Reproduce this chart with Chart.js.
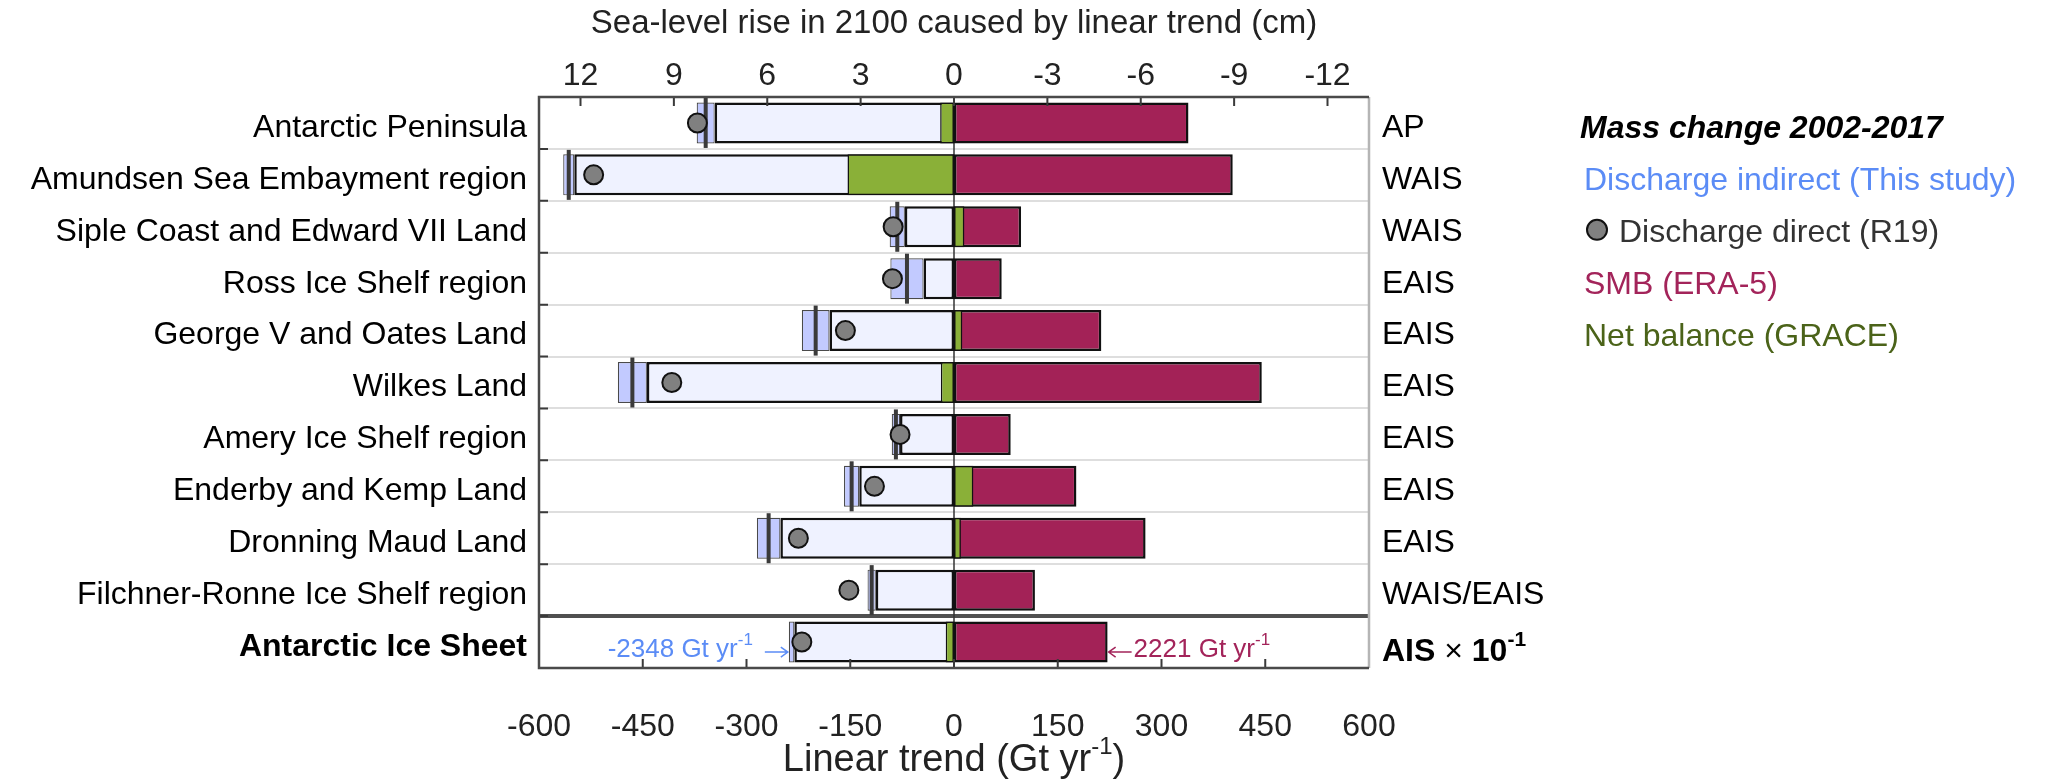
<!DOCTYPE html>
<html>
<head>
<meta charset="utf-8">
<title>Antarctic mass change 2002-2017</title>
<script src="https://cdn.jsdelivr.net/npm/chart.js@4.4.1/dist/chart.umd.min.js"></script>
<style>
  html, body { margin: 0; padding: 0; background: #fff; }
  #wrap { width: 2047px; height: 780px; }
</style>
</head>
<body>
<div id="wrap"><canvas id="chart" width="2047" height="780"></canvas></div>
<script>
// basins, top to bottom (last row is the whole ice sheet, plotted x 10^-1)
const regions = [
  'Antarctic Peninsula', 'Amundsen Sea Embayment region', 'Siple Coast and Edward VII Land',
  'Ross Ice Shelf region', 'George V and Oates Land', 'Wilkes Land', 'Amery Ice Shelf region',
  'Enderby and Kemp Land', 'Dronning Maud Land', 'Filchner-Ronne Ice Shelf region', 'Antarctic Ice Sheet'
];
const regionCodes = ['AP', 'WAIS', 'WAIS', 'EAIS', 'EAIS', 'EAIS', 'EAIS', 'EAIS', 'EAIS', 'WAIS/EAIS', ''];

// linear trends, Gt/yr
const dischargeIndirect = [-359, -557, -82, -68, -200, -465, -84, -148, -268, -119, -234.8];
const dischargeSpread   = [13, 8, 11, 24, 20, 21, 6, 11, 17, 6, 4];
const showCentreLine    = [true, true, true, true, true, true, true, true, true, true, false];
const dischargeDirect   = [-371, -521, -88, -89, -157, -408, -78, -115, -225, -152, -220];
const smbTrend          = [339, 403, 97, 69, 213, 445, 82, 177, 277, 117, 222.1];
const netBalance        = [-20, -154, 15, null, 12, -19, null, 28, 10, null, -12];

const aisIndirectLabel = '-2348';
const aisSmbLabel = '2221';

const seaLevelTicks = [12, 9, 6, 3, 0, -3, -6, -9, -12];
const gtPerCm = 45;

const FONT = "'Liberation Sans', Arial, Helvetica, sans-serif";
const LIGHT = '#eff2ff', BAND = '#c2caff', GREEN = '#8ab038', SMB = '#a32257';
const BLUE_TXT = '#5b8cf6', SMB_TXT = '#a3245a', GREEN_TXT = '#4b6319';

function drawRich(ctx, x, y, parts, align) {
  let total = 0;
  parts.forEach(p => { ctx.font = p.font; p.w = ctx.measureText(p.text).width; total += p.w; });
  let cx = align === 'center' ? x - total / 2 : align === 'right' ? x - total : x;
  ctx.textAlign = 'left';
  ctx.textBaseline = 'alphabetic';
  parts.forEach(p => {
    ctx.font = p.font;
    ctx.fillStyle = p.color || '#000';
    ctx.fillText(p.text, cx, y - (p.rise || 0));
    cx += p.w;
  });
  return total;
}

function arrow(ctx, x0, x1, y, color) {
  const dir = x1 > x0 ? 1 : -1;
  ctx.save();
  ctx.strokeStyle = color;
  ctx.lineWidth = 1.5;
  ctx.beginPath();
  ctx.moveTo(x0, y); ctx.lineTo(x1, y);
  ctx.moveTo(x1 - dir * 7, y - 5); ctx.lineTo(x1, y); ctx.lineTo(x1 - dir * 7, y + 5);
  ctx.stroke();
  ctx.restore();
}

const framePlugin = {
  id: 'frame',
  beforeDatasetsDraw(chart) {
    const { ctx, chartArea: a, scales: { x } } = chart;
    const x0 = x.getPixelForValue(0);
    ctx.save();
    ctx.strokeStyle = '#333';
    ctx.lineWidth = 1.5;
    ctx.beginPath(); ctx.moveTo(x0, a.top); ctx.lineTo(x0, a.bottom); ctx.stroke();
    ctx.restore();
  },
  afterDatasetsDraw(chart) {
    const { ctx, chartArea: a, scales: { x, x2, y } } = chart;
    ctx.save();
    // inner tick marks
    ctx.strokeStyle = '#3a3a3a';
    ctx.lineWidth = 2;
    ctx.beginPath();
    x.ticks.forEach(t => {
      const px = x.getPixelForValue(t.value);
      if (px <= a.left + 1 || px >= a.right - 1) return;
      ctx.moveTo(px, a.bottom); ctx.lineTo(px, a.bottom - 9);
    });
    x2.ticks.forEach(t => {
      const px = x2.getPixelForValue(t.value);
      ctx.moveTo(px, a.top); ctx.lineTo(px, a.top + 9);
    });
    for (let i = 1; i < regions.length; i++) {
      const py = (y.getPixelForValue(i - 1) + y.getPixelForValue(i)) / 2;
      ctx.moveTo(a.left, py); ctx.lineTo(a.left + 9, py);
    }
    ctx.stroke();
    // frame
    ctx.lineWidth = 2.5;
    ctx.strokeStyle = '#b5b5b5';
    ctx.beginPath(); ctx.moveTo(a.right, a.top); ctx.lineTo(a.right, a.bottom); ctx.stroke();
    ctx.strokeStyle = '#4a4a4a';
    ctx.beginPath();
    ctx.moveTo(a.right, a.top); ctx.lineTo(a.left, a.top); ctx.lineTo(a.left, a.bottom); ctx.lineTo(a.right, a.bottom);
    ctx.stroke();

    // AIS totals
    const last = regions.length - 1;
    const yc = y.getPixelForValue(last);
    const base = yc + 15;
    const tipL = x.getPixelForValue(dischargeIndirect[last] - dischargeSpread[last]) - 1;
    arrow(ctx, tipL - 23, tipL, base - 5, BLUE_TXT);
    drawRich(ctx, tipL - 35, base, [
      { text: aisIndirectLabel + ' Gt yr', font: '26px ' + FONT, color: BLUE_TXT },
      { text: '-1', font: '17px ' + FONT, color: BLUE_TXT, rise: 12 }
    ], 'right');
    const tipR = x.getPixelForValue(smbTrend[last]) + 1;
    arrow(ctx, tipR + 23, tipR, base - 5, SMB_TXT);
    drawRich(ctx, tipR + 25, base, [
      { text: aisSmbLabel + ' Gt yr', font: '26px ' + FONT, color: SMB_TXT },
      { text: '-1', font: '17px ' + FONT, color: SMB_TXT, rise: 12 }
    ], 'left');

    // AIS x 10^-1 on the right
    drawRich(ctx, a.right + 13, yc + 19, [
      { text: 'AIS', font: 'bold 32px ' + FONT },
      { text: ' \u00d7 ', font: '32px ' + FONT },
      { text: '10', font: 'bold 32px ' + FONT },
      { text: '-1', font: 'bold 21px ' + FONT, rise: 15 }
    ], 'left');

    // bottom axis title
    drawRich(ctx, (a.left + a.right) / 2, 771, [
      { text: 'Linear trend (Gt yr', font: '38px ' + FONT, color: '#222' },
      { text: '-1', font: '24px ' + FONT, color: '#222', rise: 17 },
      { text: ')', font: '38px ' + FONT, color: '#222' }
    ], 'center');

    // legend
    const lx = a.right + 215;
    const rowBase = i => y.getPixelForValue(i) + 15;
    drawRich(ctx, lx - 4, rowBase(0), [{ text: 'Mass change 2002-2017', font: 'italic bold 32px ' + FONT }], 'left');
    drawRich(ctx, lx, rowBase(1), [{ text: 'Discharge indirect (This study)', font: '32px ' + FONT, color: BLUE_TXT }], 'left');
    ctx.beginPath();
    ctx.arc(lx + 13, y.getPixelForValue(2) + 3, 10, 0, Math.PI * 2);
    ctx.fillStyle = '#808080'; ctx.fill();
    ctx.lineWidth = 2; ctx.strokeStyle = '#111'; ctx.stroke();
    drawRich(ctx, lx + 35, rowBase(2), [{ text: 'Discharge direct (R19)', font: '32px ' + FONT, color: '#333' }], 'left');
    drawRich(ctx, lx, rowBase(3), [{ text: 'SMB (ERA-5)', font: '32px ' + FONT, color: SMB_TXT }], 'left');
    drawRich(ctx, lx, rowBase(4), [{ text: 'Net balance (GRACE)', font: '32px ' + FONT, color: GREEN_TXT }], 'left');
    ctx.restore();
  }
};

const barCommon = { grouped: false, barPercentage: 0.79, categoryPercentage: 1, borderSkipped: false, xAxisID: 'x', yAxisID: 'y' };

new Chart(document.getElementById('chart'), {
  type: 'bar',
  data: {
    labels: regions,
    datasets: [
      Object.assign({
        label: 'SMB (ERA-5)', order: 6,
        data: smbTrend.map(v => [0, v]),
        backgroundColor: SMB, borderColor: '#111', borderWidth: 2.5
      }, barCommon),
      Object.assign({
        label: 'Discharge indirect', order: 5,
        data: dischargeIndirect.map((d, i) => [0, d + dischargeSpread[i]]),
        backgroundColor: LIGHT, borderColor: '#111', borderWidth: 2.5
      }, barCommon),
      Object.assign({
        label: 'Discharge indirect range', order: 4,
        data: dischargeIndirect.map((d, i) => [d - dischargeSpread[i], d + dischargeSpread[i]]),
        backgroundColor: BAND, borderColor: '#4a4a4a', borderWidth: 1.2
      }, barCommon),
      Object.assign({
        label: 'Net balance (GRACE)', order: 3,
        data: netBalance.map(v => v == null ? null : [0, v]),
        backgroundColor: GREEN, borderColor: '#111', borderWidth: 1.5
      }, barCommon),
      {
        type: 'scatter', label: 'Discharge indirect centre', order: 2, indexAxis: 'x',
        xAxisID: 'x', yAxisID: 'y',
        data: dischargeIndirect.map((d, i) => showCentreLine[i] ? { x: d, y: regions[i] } : null).filter(Boolean),
        pointStyle: 'line', rotation: 90, pointRadius: 25, pointHoverRadius: 25,
        borderColor: '#3a3a3a', borderWidth: 4
      },
      {
        type: 'scatter', label: 'Discharge direct (R19)', order: 1, indexAxis: 'x',
        xAxisID: 'x', yAxisID: 'y',
        data: dischargeDirect.map((d, i) => ({ x: d, y: regions[i] })),
        pointStyle: 'circle', pointRadius: 9.5, pointHoverRadius: 9.5,
        backgroundColor: '#808080', borderColor: '#111', borderWidth: 2
      }
    ]
  },
  options: {
    indexAxis: 'y',
    responsive: false,
    animation: false,
    devicePixelRatio: 1,
    events: [],
    layout: { padding: 0 },
    plugins: { legend: { display: false }, tooltip: { enabled: false } },
    scales: {
      x: {
        type: 'linear', position: 'bottom', min: -600, max: 600,
        ticks: { stepSize: 150, padding: 40, color: '#222', font: { family: FONT, size: 32 } },
        grid: { display: false, drawTicks: false },
        border: { display: false },
        afterFit: s => { s.height = 112; }
      },
      x2: {
        type: 'linear', position: 'top', min: -600 / gtPerCm, max: 600 / gtPerCm, reverse: true,
        afterBuildTicks: s => { s.ticks = seaLevelTicks.map(v => ({ value: v })); },
        ticks: { padding: 2, color: '#222', font: { family: FONT, size: 32 } },
        grid: { display: false, drawTicks: false },
        border: { display: false },
        title: {
          display: true, text: 'Sea-level rise in 2100 caused by linear trend (cm)',
          color: '#222', font: { family: FONT, size: 33 }, padding: { top: 4, bottom: 0 }
        },
        afterFit: s => { s.height = 97; }
      },
      y: {
        type: 'category', position: 'left', offset: true,
        ticks: {
          autoSkip: false, padding: 12, labelOffset: 5, color: '#000',
          font: c => ({ family: FONT, size: 32, weight: c.index === regions.length - 1 ? 'bold' : 'normal' })
        },
        grid: {
          offset: true, drawTicks: false,
          color: c => c.index === regions.length - 1 ? '#505050' : '#dedede',
          lineWidth: c => c.index === regions.length - 1 ? 4 : 2
        },
        border: { display: false },
        afterFit: s => { s.width = 539; }
      },
      y2: {
        type: 'category', position: 'right', offset: true, labels: regionCodes,
        ticks: { autoSkip: false, padding: 13, labelOffset: 5, color: '#000', font: { family: FONT, size: 32 } },
        grid: { display: false, drawTicks: false },
        border: { display: false },
        afterFit: s => { s.width = 678; }
      }
    }
  },
  plugins: [framePlugin]
});
</script>
</body>
</html>
